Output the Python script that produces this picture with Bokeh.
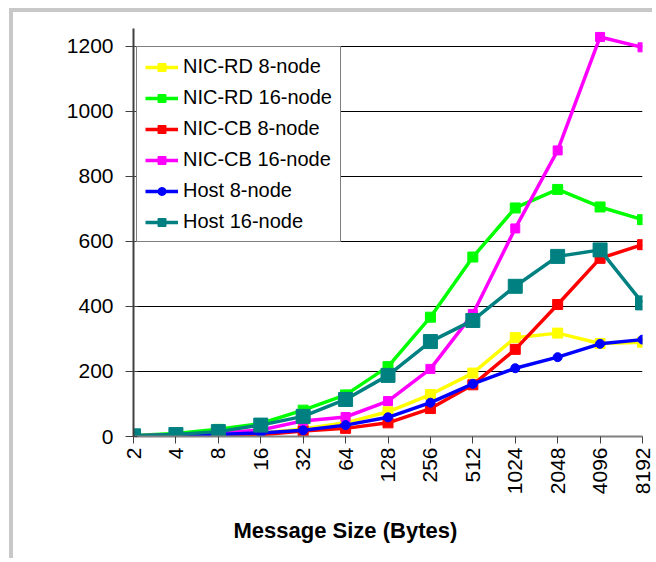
import math

from bokeh.plotting import figure
from bokeh.models import Range1d, FixedTicker, Legend, LegendItem, Title
from bokeh.embed import file_html
from bokeh.resources import INLINE

# Message sizes (bytes) on the category axis
sizes = ["2", "4", "8", "16", "32", "64", "128", "256", "512",
         "1024", "2048", "4096", "8192"]

# Measured values per configuration
nic_rd_8 = [1, 3, 6, 10, 23, 42, 76, 129, 195, 304, 318, 286, 290]
nic_rd_16 = [3, 9, 22, 40, 81, 128, 215, 367, 552, 703, 760, 706, 667]
nic_cb_8 = [1, 2, 3, 5, 17, 25, 42, 86, 159, 268, 406, 548, 590]
nic_cb_16 = [2, 5, 10, 20, 48, 60, 109, 208, 377, 640, 880, 1229, 1197]
host_8 = [1, 3, 6, 11, 19, 35, 59, 104, 162, 210, 244, 285, 298]
host_16 = [2, 6, 15, 35, 62, 114, 188, 292, 357, 462, 554, 574, 411]

y_ticks = [0, 200, 400, 600, 800, 1000, 1200]

FONT = "Liberation Sans"

xs = list(range(len(sizes)))

p = figure(width=643, height=550, output_backend="svg", toolbar_location=None,
           x_range=Range1d(0, len(sizes) - 1), y_range=Range1d(0, 1255),
           min_border_left=120, min_border_right=14,
           min_border_top=16, min_border_bottom=126)
p.background_fill_color = "white"
p.border_fill_color = "white"
p.outline_line_color = None
# light grey chart-area frame on the top and left edges
p.margin = (8, 0, 0, 9)
p.styles = {"border-top": "4px solid #c8c8c8",
            "border-left": "4px solid #c8c8c8"}

# axes
p.xaxis.ticker = FixedTicker(ticks=xs)
p.xaxis.major_label_overrides = {i: s for i, s in enumerate(sizes)}
p.xaxis.major_label_orientation = math.pi / 2
p.xaxis.minor_tick_line_color = None
p.xaxis.axis_line_color = "#808080"
p.xaxis.axis_line_width = 2
p.xaxis.major_tick_line_color = "#404040"
p.xaxis.major_tick_out = 7
p.xaxis.major_tick_in = 0
p.xaxis.major_label_standoff = 4
p.xaxis.major_label_text_font = FONT
p.xaxis.major_label_text_font_size = "21px"
p.xaxis.major_label_text_color = "black"

p.yaxis.ticker = FixedTicker(ticks=y_ticks)
p.yaxis.minor_tick_line_color = None
p.yaxis.axis_line_color = "#404040"
p.yaxis.axis_line_width = 2
p.yaxis.major_tick_line_color = "#404040"
p.yaxis.major_tick_out = 8
p.yaxis.major_tick_in = 4
p.yaxis.major_label_standoff = 12
p.yaxis.major_label_text_font = FONT
p.yaxis.major_label_text_font_size = "21px"
p.yaxis.major_label_text_color = "black"

p.xgrid.grid_line_color = None
p.ygrid.ticker = FixedTicker(ticks=y_ticks)
p.ygrid.grid_line_color = "black"
p.ygrid.grid_line_width = 1

series = [
    ("NIC-RD 8-node", nic_rd_8, "#FFFF00", "square", 10),
    ("NIC-RD 16-node", nic_rd_16, "#00FF00", "square", 10),
    ("NIC-CB 8-node", nic_cb_8, "#FF0000", "square", 10),
    ("NIC-CB 16-node", nic_cb_16, "#FF00FF", "square", 9),
    ("Host 8-node", host_8, "#0000FF", "circle", 9),
    ("Host 16-node", host_16, "#008080", "square", 14),
]

items = []
for name, vals, color, marker, size in series:
    ln = p.line(xs, vals, line_color=color, line_width=3.5)
    sc = p.scatter(xs, vals, marker=marker, size=size,
                   fill_color=color, line_color=color)
    items.append(LegendItem(label=name, renderers=[ln, sc]))

legend = Legend(items=items, location=(3, 194),
                label_text_font=FONT, label_text_font_size="20px",
                label_text_color="black",
                glyph_width=33, glyph_height=20, label_height=20,
                label_standoff=5, spacing=8, padding=8, margin=0,
                border_line_color="black", border_line_width=1,
                background_fill_color="white", background_fill_alpha=1)
p.add_layout(legend, "center")

p.add_layout(Title(text="Message Size (Bytes)", align="left", offset=100,
                   standoff=37, text_font=FONT, text_font_size="22px",
                   text_font_style="bold", text_color="black"), "below")

open("out.html", "w").write(file_html(p, INLINE))
